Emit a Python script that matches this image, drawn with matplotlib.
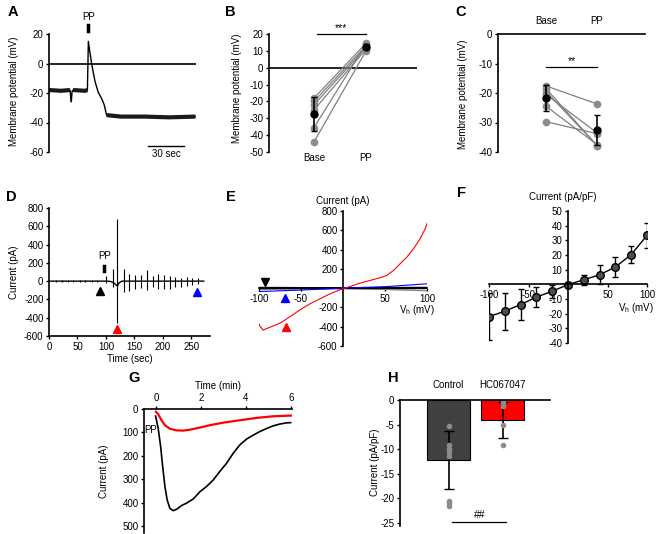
import matplotlib
matplotlib.use('Agg')
import matplotlib.pyplot as plt
import numpy as np

plt.rcParams['font.family'] = ['Liberation Sans', 'DejaVu Sans']
plt.rcParams['font.size'] = 7
plt.rcParams['axes.unicode_minus'] = False
plt.rcParams['axes.linewidth'] = 1.2
plt.rcParams['xtick.major.width'] = 1.0
plt.rcParams['ytick.major.width'] = 1.0
plt.rcParams['xtick.major.size'] = 2.5
plt.rcParams['ytick.major.size'] = 2.5
plt.rcParams['xtick.major.pad'] = 1.5
plt.rcParams['ytick.major.pad'] = 1.5

# ---- A: membrane potential trace
a_time = [0, 10, 17.5, 18, 18.6, 19.2, 20, 30, 32, 32.8, 34, 35.5, 38.3, 41, 44, 46, 48, 60, 80, 100, 122]
a_vm = [-18, -18.5, -18, -22, -26, -19, -18, -18.5, -18, 15, 8, 0, -12, -19.5, -24, -28, -35, -36, -36, -36.5, -36]

# ---- B: Base vs PP
b_base = [-18, -20, -22, -25, -35.5, -44]
b_pp = [14.5, 13, 12, 11, 14, 10]
b_mean = [-27.4, 12.5]
b_err = [10.1, 1.5]

# ---- C: Base vs PP
c_base = [-17.6, -18.5, -19.5, -20.5, -24.5, -29.7]
c_pp = [-23.7, -37.8, -37.8, -33.5, -37.5, -33.8]
c_mean = [-21.7, -32.6]
c_err = [4.5, 5.0]
conds = ['Base', 'PP']

# ---- D: current vs time
d_base_t = [0, 100, 108, 112, 116, 119, 120.5, 123, 128, 272]
d_base_i = [0, 0, -3, -12, -30, -48, -50, -20, 0, 0]
d_pulse_t = [12, 22, 33, 43, 54, 64, 75, 85, 101, 112, 120, 131, 141, 151, 161, 172, 182,
             192, 202, 212, 222, 232, 242, 252, 262]
d_pulse_hi = [12, 12, 12, 12, 12, 12, 12, 12, 52, 137, 680, 137, 74, 63, 63, 118, 52,
              74, 63, 52, 44, 37, 44, 37, 33]
d_pulse_lo = [-12, -12, -12, -12, -12, -12, -12, -12, -25, -67, -455, -122, -111, -85, -74, -96, -67,
              -85, -85, -85, -63, -59, -48, -37, -30]
d_marks_t = [90, 120, 261]
d_marks_i = [-106, -525, -117]

# ---- E: I-V ramps
e_red_v = [-100, -99.2, -95.2, -87.3, -79.3, -73.3, -67.3, -59.4, -51.4, -39.4, -27.5, -15.5, -3.6,
           8.4, 20.3, 32.3, 44.2, 52.2, 60.2, 68.1, 76.1, 84.1, 92, 98, 100]
e_red_i = [-370, -390, -435, -407, -379, -355, -320, -275, -226, -163, -111, -59, -17,
           17, 52, 80, 108, 132, 184, 254, 323, 410, 515, 619, 671]
e_blue_v = [-100, -50, 0, 50, 100]
e_blue_i = [-35, -20, 0, 15, 45]
e_gray_v = [-100, 0, 100]
e_gray_i = [8, 0, -25]
e_black_v = [-100, 0, 100]
e_black_i = [-3, 0, 3]
e_marks_v = [-93, -69, -68]
e_marks_i = [63, -100, -405]

# ---- F: mean I-V
f_vh = [-100, -80, -60, -40, -20, 0, 20, 40, 60, 80, 100]
f_cur = [-22, -18.3, -13.8, -8.7, -4.7, -0.2, 3.1, 6.5, 11.8, 20.3, 33.3]
f_err = [16, 12.5, 10.5, 7, 4.5, 1, 3.6, 6.5, 7, 6, 8.3]

# ---- G: time course
g_black_t = [-0.015, 0.1, 0.21, 0.3, 0.4, 0.5, 0.62, 0.77, 0.92, 1.14, 1.36, 1.66, 1.96, 2.25, 2.55,
             2.84, 3.14, 3.44, 3.73, 4.03, 4.33, 4.62, 4.92, 5.21, 5.51, 5.81, 5.99]
g_black_i = [30, 82, 160, 245, 330, 387, 423, 433, 427, 411, 401, 383, 352, 330, 302,
             266, 231, 188, 153, 128, 111, 96, 83, 72, 64, 59, 58]
g_red_t = [0, 0.1, 0.25, 0.4, 0.62, 0.92, 1.21, 1.51, 1.96, 2.4, 3, 3.73, 4.47, 5.21, 6]
g_red_i = [12, 22, 48, 69, 84, 91, 92, 88, 79, 69, 58, 48, 38, 31, 28]

# ---- H: bars
h_groups = ['Control', 'HC067047']
h_mean = [-12.2, -4.1]
h_err = [5.9, 3.7]
h_ctrl_pts = [-5.3, -9.2, -9.9, -10.6, -11.3, -20.5, -21.0, -21.5]
h_hc_pts = [-0.5, -1.3, -5.0, -9.2]

W, H = 657, 534
fig = plt.figure(figsize=(W / 100, H / 100), dpi=100)


def px_axes(x0, y0, x1, y1):
    return fig.add_axes([x0 / W, 1 - y1 / H, (x1 - x0) / W, (y1 - y0) / H])


def ftext(x, y, s, **kw):
    fig.text(x / W, 1 - y / H, s, **kw)


def only_left(ax):
    for s in ['top', 'right', 'bottom']:
        ax.spines[s].set_visible(False)


# ----- A
ax = px_axes(49, 34, 196, 152)
only_left(ax)
ax.axhline(0, color='black', lw=1.2)
t = np.array(a_time)
v = np.array(a_vm)
ax.plot(t, v, color='black', lw=1.0)
ax.plot(t[t <= 17.5], v[t <= 17.5], color='#1a1a1a', lw=3, solid_capstyle='butt')
ax.plot(t[(t >= 20) & (t <= 32)], v[(t >= 20) & (t <= 32)], color='#1a1a1a', lw=3, solid_capstyle='butt')
ax.plot(t[t >= 48], v[t >= 48], color='#1a1a1a', lw=3, solid_capstyle='butt')
ax.plot([82.5, 112.5], [-55.9, -55.9], color='black', lw=1)
ax.text(97.5, -58, '30 sec', ha='center', va='top')
ax.plot([32.8, 32.8], [22, 26], color='black', lw=2.5, clip_on=False)
ax.text(32.8, 28, 'PP', ha='center', va='bottom')
ax.set_xlim(0, 122.5)
ax.set_ylim(-60, 20)
ax.set_yticks([-60, -40, -20, 0, 20])
ax.set_xticks([])
ftext(14, 91, 'Membrane potential (mV)', rotation=90, ha='center', va='center')
ftext(8, 12, 'A', fontsize=10.5, fontweight='bold', ha='left', va='center')

# ----- B
ax = px_axes(269, 34, 417, 152)
only_left(ax)
ax.axhline(0, color='black', lw=1.2)
for b0, b1 in zip(b_base, b_pp):
    ax.plot([0, 1], [b0, b1], color='#808080', lw=0.9, marker='o', ms=4.5,
            mfc='#8c8c8c', mec='#8c8c8c')
ax.errorbar([0, 1], b_mean, yerr=b_err, fmt='o', color='black', ms=5, capsize=2.5, lw=1.2)
ax.plot([0.05, 1.0], [20, 20], color='black', lw=0.9, clip_on=False)
ax.text(0.52, 20.5, '***', ha='center', va='bottom', fontsize=7.5)
ax.set_xlim(-0.865, 1.98)
ax.set_ylim(-50, 20)
ax.set_yticks(np.arange(-50, 21, 10))
ax.set_xticks([0, 1])
ax.set_xticklabels(conds)
ax.tick_params(axis='x', length=0, pad=1)
ftext(237, 88, 'Membrane potential (mV)', rotation=90, ha='center', va='center')
ftext(225, 12, 'B', fontsize=10.5, fontweight='bold', ha='left', va='center')

# ----- C
ax = px_axes(498, 34, 645, 152)
ax.spines['right'].set_visible(False)
ax.spines['bottom'].set_visible(False)
for c0, c1 in zip(c_base, c_pp):
    ax.plot([0, 1], [c0, c1], color='#808080', lw=0.9, marker='o', ms=4.5,
            mfc='#8c8c8c', mec='#8c8c8c')
ax.errorbar([0, 1], c_mean, yerr=c_err, fmt='o', color='black', ms=5, capsize=2.5, lw=1.2)
ax.plot([0, 1], [-11.2, -11.2], color='black', lw=0.9)
ax.text(0.5, -10.8, '**', ha='center', va='bottom', fontsize=7.5)
ax.set_xlim(-0.94, 1.94)
ax.set_ylim(-40, 0)
ax.set_yticks([-40, -30, -20, -10, 0])
ax.xaxis.tick_top()
ax.set_xticks([0, 1])
ax.set_xticklabels(conds)
ax.tick_params(axis='x', length=0, pad=6)
ftext(463, 94, 'Membrane potential (mV)', rotation=90, ha='center', va='center')
ftext(455, 12, 'C', fontsize=10.5, fontweight='bold', ha='left', va='center')

# ----- D
ax = px_axes(49, 208, 210, 336)
ax.spines['top'].set_visible(False)
ax.spines['right'].set_visible(False)
ax.plot(d_base_t, d_base_i, color='black', lw=1.0)
ax.vlines(d_pulse_t, d_pulse_lo, d_pulse_hi, color='black', lw=0.8)
ax.plot(d_marks_t[0], d_marks_i[0], marker='^', color='black', ms=6, ls='none')
ax.plot(d_marks_t[1], d_marks_i[1], marker='^', color='red', ms=6, ls='none')
ax.plot(d_marks_t[2], d_marks_i[2], marker='^', color='blue', ms=6, ls='none')
ax.plot([97, 97], [110, 170], color='black', lw=2.5)
ax.text(97, 215, 'PP', ha='center', va='bottom')
ax.set_xlim(0, 283)
ax.set_ylim(-600, 800)
ax.set_xticks([0, 50, 100, 150, 200, 250])
ax.set_yticks(np.arange(-600, 801, 200))
ax.set_xlabel('Time (sec)', labelpad=2)
ftext(14, 272, 'Current (pA)', rotation=90, ha='center', va='center')
ftext(6, 197, 'D', fontsize=10.5, fontweight='bold', ha='left', va='center')

# ----- E
ax = px_axes(259, 211, 427, 346)
ax.spines['top'].set_visible(False)
ax.spines['right'].set_visible(False)
ax.spines['left'].set_position(('data', 0))
ax.spines['bottom'].set_position(('data', 0))
ax.plot(e_black_v, e_black_i, color='black', lw=1.6, zorder=3)
ax.plot(e_gray_v, e_gray_i, color='#888888', lw=1.2, zorder=2)
ax.plot(e_blue_v, e_blue_i, color='blue', lw=0.8, zorder=4)
ax.plot(e_red_v, e_red_i, color='red', lw=0.8, zorder=5)
ax.plot(e_marks_v[0], e_marks_i[0], marker='v', color='black', ms=6, ls='none')
ax.plot(e_marks_v[1], e_marks_i[1], marker='^', color='blue', ms=6, ls='none')
ax.plot(e_marks_v[2], e_marks_i[2], marker='^', color='red', ms=6, ls='none')
ax.set_xlim(-100, 100)
ax.set_ylim(-600, 800)
ax.set_xticks([-100, -50, 50, 100])
ax.set_yticks([-600, -400, -200, 200, 400, 600, 800])
ftext(343, 201, 'Current (pA)', ha='center', va='center')
ftext(417, 310, 'V$_\\mathregular{h}$ (mV)', ha='center', va='center')
ftext(226, 197, 'E', fontsize=10.5, fontweight='bold', ha='left', va='center')

# ----- F
ax = px_axes(489, 211, 647, 343)
ax.spines['top'].set_visible(False)
ax.spines['right'].set_visible(False)
ax.spines['left'].set_position(('data', 0))
ax.spines['bottom'].set_position(('data', 0))
ax.errorbar(f_vh, f_cur, yerr=f_err, fmt='-o', color='black', lw=1.0, ms=5.5,
            mfc='#4d4d4d', mec='black', capsize=2.5, elinewidth=1.0)
ax.set_xlim(-100, 100)
ax.set_ylim(-40, 50)
ax.set_xticks([-100, -50, 50, 100])
ax.set_yticks([-40, -30, -20, -10, 10, 20, 30, 40, 50])
ftext(563, 197, 'Current (pA/pF)', ha='center', va='center')
ftext(636, 308, 'V$_\\mathregular{h}$ (mV)', ha='center', va='center')
ftext(457, 193, 'F', fontsize=10.5, fontweight='bold', ha='left', va='center')

# ----- G
ax = px_axes(144, 409, 292, 533)
ax.spines['bottom'].set_visible(False)
ax.spines['right'].set_visible(False)
ax.plot(g_black_t, g_black_i, color='black', lw=1.2)
ax.plot(g_red_t, g_red_i, color='red', lw=1.6)
ax.text(-0.5, 89, 'PP', ha='left', va='center')
ax.set_xlim(-0.53, 6.05)
ax.set_ylim(528, 0)
ax.xaxis.tick_top()
ax.xaxis.set_label_position('top')
ax.set_xticks([0, 2, 4, 6])
ax.set_yticks([0, 100, 200, 300, 400, 500])
ax.set_xlabel('Time (min)', labelpad=3)
ftext(104, 471, 'Current (pA)', rotation=90, ha='center', va='center')
ftext(128, 378, 'G', fontsize=10.5, fontweight='bold', ha='left', va='center')

# ----- H
ax = px_axes(400, 400, 550, 525.5)
ax.spines['bottom'].set_visible(False)
ax.spines['right'].set_visible(False)
ax.bar([0, 1], h_mean, width=0.8, color=['#404040', 'red'], edgecolor='black', lw=0.8)
ax.errorbar([0, 1], h_mean, yerr=h_err, fmt='none', ecolor='black', capsize=3.5, elinewidth=1.2)
ax.plot([0] * len(h_ctrl_pts), h_ctrl_pts, 'o', color='#8c8c8c', ms=3)
ax.plot([1] * len(h_hc_pts), h_hc_pts, 'o', color='#8c8c8c', ms=3)
ax.plot([0.07, 1.07], [-24.8, -24.8], color='black', lw=0.9)
ax.text(0.57, -24.3, '##', ha='center', va='bottom', fontsize=7.5)
ax.set_xlim(-0.9, 1.88)
ax.set_ylim(-25.5, 0)
ax.set_yticks([-25, -20, -15, -10, -5, 0])
ax.xaxis.tick_top()
ax.set_xticks([0, 1])
ax.set_xticklabels(h_groups)
ax.tick_params(axis='x', length=0, pad=7)
ftext(375, 462, 'Current (pA/pF)', rotation=90, ha='center', va='center')
ftext(388, 378, 'H', fontsize=10.5, fontweight='bold', ha='left', va='center')

fig.savefig('out.png', dpi=100)
